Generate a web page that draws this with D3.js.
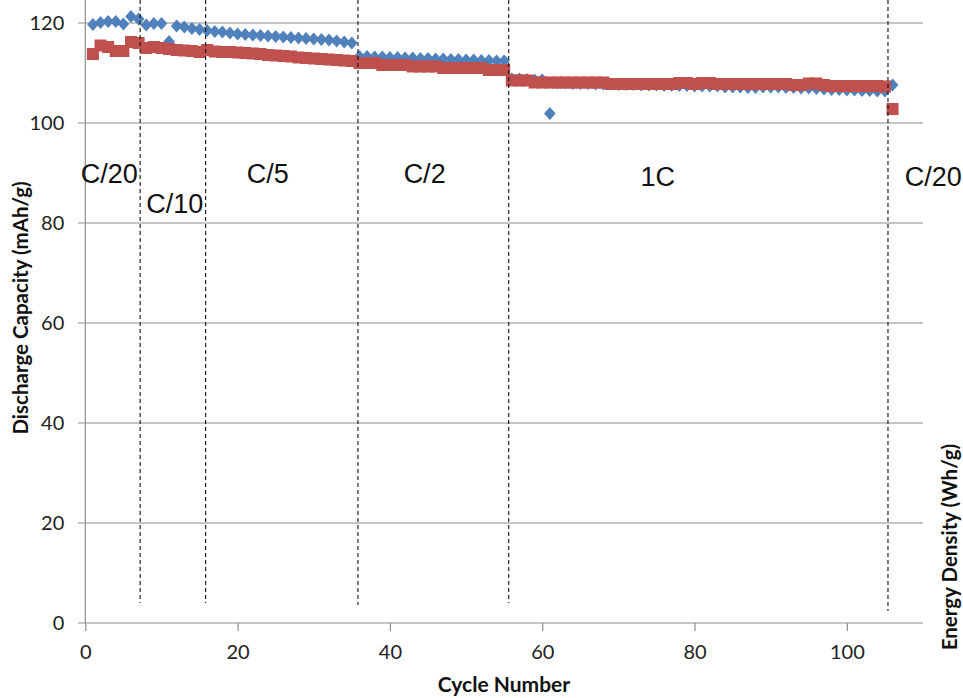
<!DOCTYPE html>
<html>
<head>
<meta charset="utf-8">
<script src="https://cdn.jsdelivr.net/npm/d3@7"></script>
<style>
  html, body { margin: 0; padding: 0; background: #fff; }
  svg { display: block; }
</style>
</head>
<body>
<svg id="chart" width="963" height="698"></svg>
<script>
// ---------- data ----------
const cycles = d3.range(1, 107);

const dischargeCapacity = [
  119.7, 120.1, 120.3, 120.3, 119.8, 121.3, 120.8, 119.6, 119.9, 119.9,
  116.3, 119.4, 119.2, 118.9, 118.7, 118.5, 118.3, 118.2, 118.0, 117.8,
  117.7, 117.6, 117.5, 117.4, 117.3, 117.2, 117.1, 117.0, 116.9, 116.8,
  116.7, 116.6, 116.4, 116.2, 116.0, 113.3, 113.3, 113.2, 113.2, 113.1,
  113.1, 113.0, 113.0, 112.9, 112.9, 112.8, 112.8, 112.7, 112.7, 112.6,
  112.6, 112.5, 112.5, 112.4, 112.4, 108.8, 108.8, 108.7, 108.6, 108.6,
  101.9, 108.0, 108.0, 107.9, 107.9, 107.9, 107.8, 107.8, 107.8, 107.7,
  107.7, 107.7, 107.6, 107.6, 107.6, 107.5, 107.5, 107.5, 107.5, 107.4,
  107.4, 107.4, 107.4, 107.2, 107.2, 107.2, 107.1, 107.1, 107.2, 107.2,
  107.2, 107.1, 107.1, 107.0, 107.0, 106.9, 106.8, 106.7, 106.7, 106.6,
  106.6, 106.5, 106.5, 106.4, 106.4, 107.6
];

const energyDensity = [
  113.8, 115.5, 115.2, 114.4, 114.4, 116.2, 116.0, 115.0, 115.2, 115.0,
  114.8, 114.6, 114.5, 114.4, 114.2, 114.6, 114.3, 114.2, 114.2, 114.1,
  114.0, 113.9, 113.8, 113.6, 113.5, 113.4, 113.3, 113.1, 113.0, 112.9,
  112.8, 112.7, 112.6, 112.5, 112.4, 112.0, 112.0, 112.0, 111.6, 111.6,
  111.6, 111.6, 111.3, 111.3, 111.3, 111.3, 111.0, 111.0, 111.0, 111.0,
  111.0, 111.0, 110.6, 110.6, 110.6, 108.5, 108.5, 108.5, 108.1, 108.1,
  108.1, 108.1, 108.1, 108.1, 108.1, 108.1, 108.1, 108.1, 107.8, 107.8,
  107.8, 107.8, 107.8, 107.8, 107.8, 107.8, 107.8, 108.0, 108.0, 107.8,
  108.0, 108.0, 107.8, 107.8, 107.8, 107.8, 107.8, 107.8, 107.8, 107.8,
  107.8, 107.8, 107.6, 107.6, 107.9, 107.9, 107.6, 107.4, 107.4, 107.4,
  107.4, 107.4, 107.4, 107.4, 107.3, 102.8
];

const xTicks = [0, 20, 40, 60, 80, 100];
const yTicks = [0, 20, 40, 60, 80, 100, 120];

// C-rate boundaries (cycle number) and rate labels
const rateBoundaries = [7.2, 15.8, 35.8, 55.6, 105.4];
const rateLabels = ["C/20", "C/10", "C/5", "C/2", "1C", "C/20"];
const rateLabelX = [-0.6, 8.0, 21.2, 41.8, 72.9, 107.6];   // cycle at label start
const rateLabelY = [88, 82, 88, 88, 87.5, 87.5];          // value at label baseline

// ---------- layout ----------
const svg = d3.select("#chart");
const x = d3.scaleLinear().domain([0, 110]).range([85.3, 923]);
const y = d3.scaleLinear().domain([0, 120]).range([623, 23]);

const gridColor = "#8c8c8c";
const fontTick = "Lato, 'Open Sans', sans-serif";

// gridlines
svg.append("g").selectAll("line").data(yTicks.filter(d => d > 0)).join("line")
  .attr("x1", 78).attr("x2", x(110))
  .attr("y1", d => y(d)).attr("y2", d => y(d))
  .attr("stroke", gridColor).attr("stroke-width", 1.2);

// y axis line (extends to top of picture)
svg.append("line")
  .attr("x1", x(0)).attr("x2", x(0)).attr("y1", 0).attr("y2", y(0))
  .attr("stroke", gridColor).attr("stroke-width", 1.2);

// x axis via d3
const xAxis = d3.axisBottom(x).tickValues(xTicks).tickSize(8).tickSizeOuter(0).tickPadding(14);
const gx = svg.append("g").attr("transform", `translate(0,${y(0)})`).call(xAxis);
gx.select(".domain").attr("stroke", gridColor).attr("stroke-width", 1.2)
  .attr("d", `M78,0H${x(110)}`);
gx.selectAll(".tick line").attr("stroke", gridColor).attr("stroke-width", 1.2);
gx.selectAll(".tick text").attr("font-family", fontTick).attr("font-size", 20)
  .attr("fill", "#222");

// y axis tick labels via d3
const yAxis = d3.axisLeft(y).tickValues(yTicks).tickSize(0).tickPadding(21);
const gy = svg.append("g").attr("transform", `translate(${x(0)},0)`).call(yAxis);
gy.select(".domain").remove();
gy.selectAll(".tick text").attr("font-family", fontTick).attr("font-size", 20)
  .attr("fill", "#222");

// ---------- markers ----------
const diamond = (cx, cy) => `M${cx},${cy - 6.5}L${cx + 5.8},${cy}L${cx},${cy + 6.5}L${cx - 5.8},${cy}Z`;

svg.append("g").selectAll("path").data(cycles).join("path")
  .attr("d", (c, i) => diamond(x(c), y(dischargeCapacity[i])))
  .attr("fill", "#4F81BD");

svg.append("g").selectAll("rect").data(cycles).join("rect")
  .attr("x", c => x(c) - 6)
  .attr("y", (c, i) => y(energyDensity[i]) - 6)
  .attr("width", 12).attr("height", 12)
  .attr("fill", "#C0504D");

// ---------- rate boundary dashed lines ----------
const lineBottoms = [603, 603, 605, 603, 611];
svg.append("g").selectAll("line").data(rateBoundaries).join("line")
  .attr("x1", d => x(d)).attr("x2", d => x(d))
  .attr("y1", 0).attr("y2", (d, i) => lineBottoms[i])
  .attr("stroke", "#111").attr("stroke-width", 1.1)
  .attr("stroke-dasharray", "4,3");

// ---------- rate labels ----------
svg.append("g").selectAll("text").data(rateLabels).join("text")
  .attr("x", (d, i) => x(rateLabelX[i]))
  .attr("y", (d, i) => y(rateLabelY[i]))
  .attr("font-family", "'Liberation Sans', Arial, sans-serif")
  .attr("font-size", 27)
  .attr("fill", "#111")
  .text(d => d);

// ---------- axis titles ----------
svg.append("text")
  .attr("x", 504).attr("y", 692)
  .attr("text-anchor", "middle")
  .attr("font-family", fontTick).attr("font-weight", "bold").attr("font-size", 21)
  .attr("fill", "#111")
  .text("Cycle Number");

svg.append("text")
  .attr("transform", "translate(28,308) rotate(-90)")
  .attr("text-anchor", "middle")
  .attr("font-family", fontTick).attr("font-weight", "bold").attr("font-size", 20.5)
  .attr("fill", "#111")
  .text("Discharge Capacity (mAh/g)");

svg.append("text")
  .attr("transform", "translate(957,547) rotate(-90)")
  .attr("text-anchor", "middle")
  .attr("font-family", fontTick).attr("font-weight", "bold").attr("font-size", 20.5)
  .attr("fill", "#111")
  .text("Energy Density (Wh/g)");
</script>
</body>
</html>
